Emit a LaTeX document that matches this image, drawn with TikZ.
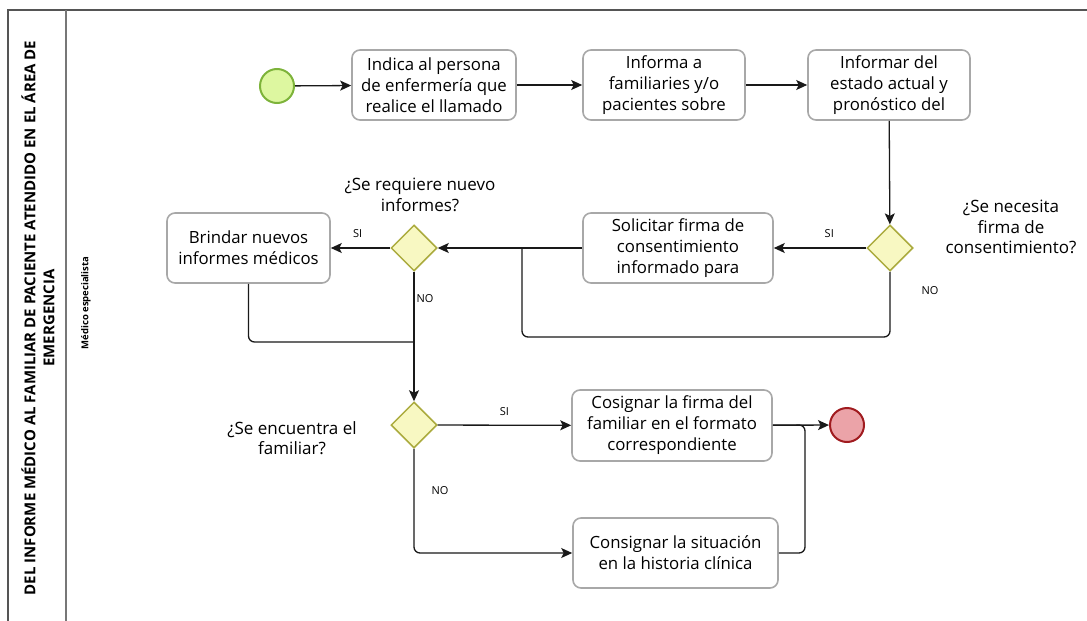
\documentclass[tikz,border=0pt]{standalone}
\usepackage{fontspec}
\setmainfont{Open Sans}
\usetikzlibrary{arrows.meta,shapes.geometric}
\definecolor{taskgray}{HTML}{A8A8A8}
\definecolor{gateline}{HTML}{ABAB3E}
\definecolor{gatefill}{HTML}{F8F8C2}
\definecolor{startfill}{HTML}{DDF7A0}
\definecolor{startline}{HTML}{7DB33A}
\definecolor{endfill}{HTML}{EBA3A8}
\definecolor{endline}{HTML}{A01B1F}
\definecolor{poolline}{HTML}{555555}
\begin{document}
\begin{tikzpicture}[x=1pt,y=-1pt,
  task/.style={draw=taskgray, line width=1.6pt, rounded corners=8pt, fill=white,
    minimum height=70pt, align=center, inner sep=0pt,
    font=\fontsize{16.8}{21}\selectfont},
  gate/.style={diamond, draw=gateline, fill=gatefill, line width=1.5pt,
    minimum width=46pt, minimum height=46pt, inner sep=0pt},
  gatelabel/.style={align=center, font=\fontsize{17}{20.5}\selectfont},
  flowlabel/.style={font=\fontsize{11}{12}\selectfont},
  flow/.style={draw=black!90, line width=1.3pt, rounded corners=6pt},
  arrow/.style={flow, -{Stealth[length=11pt,width=10pt,inset=2.5pt]}},
  event/.style={circle, minimum size=34pt, inner sep=0pt, line width=2pt}
]
\useasboundingbox (0,0) rectangle (1087,621);

% pool and lane frame
\draw[poolline, line width=1.4pt] (8,621) -- (8,10) -- (1087,10);
\draw[poolline!80, line width=1.2pt] (66,10) -- (66,621);
\node[rotate=90, align=center, font=\bfseries\fontsize{15}{19}\selectfont]
  (pooltitle) at (38,318)
  {DEL INFORME MÉDICO AL FAMILIAR DE PACIENTE ATENDIDO EN EL ÁREA DE\\EMERGENCIA};
\node[rotate=90, font=\bfseries\fontsize{9.5}{11}\selectfont]
  (lanetitle) at (86,303) {Médico especialista};

% events
\node[event, draw=startline, fill=startfill] (start) at (277,86) {};
\node[event, draw=endline, fill=endfill] (end) at (847,425) {};

% tasks
\node[task, minimum width=164pt] (t1) at (434,85)
  {Indica al persona\\de enfermería que\\realice el llamado};
\node[task, minimum width=162pt] (t2) at (664,85)
  {Informa a\\familiaries y/o\\pacientes sobre};
\node[task, minimum width=162pt] (t3) at (889,85)
  {Informar del\\estado actual y\\pronóstico del};
\node[task, minimum width=190pt] (t4) at (678,248)
  {Solicitar firma de\\consentimiento\\informado para};
\node[task, minimum width=163pt] (t5) at (248.5,248)
  {Brindar nuevos\\informes médicos};
\node[task, minimum width=200pt, minimum height=71pt] (t6) at (672,425.5)
  {Cosignar la firma del\\familiar en el formato\\correspondiente};
\node[task, minimum width=205pt] (t7) at (675.5,553)
  {Consignar la situación\\en la historia clínica};

% gateways
\node[gate] (g1) at (890,248) {};
\node[gate] (g2) at (414,248) {};
\node[gate] (g3) at (414,425) {};

\node[gatelabel] (g1lbl) at (1011,227)
  {¿Se necesita\\firma de\\consentimiento?};
\node[gatelabel] (g2lbl) at (420,195)
  {¿Se requiere nuevo\\informes?};
\node[gatelabel] (g3lbl) at (292,438)
  {¿Se encuentra el\\familiar?};

% merge points
\coordinate (m1) at (522,248);
\coordinate (m2) at (414,342);
\coordinate (m3) at (805,425);

% sequence flows
\draw[arrow] (start) -- (t1);
\draw[arrow] (t1) -- (t2);
\draw[arrow] (t2) -- (t3);
\draw[arrow] (t3) -- (g1);
\draw[arrow] (g1) -- node[flowlabel, above=6pt, pos=0.4] (si1) {SI} (t4);
\draw[arrow] (t4) -- (g2);
\draw[flow] (g1.south) |- (522,337) -- (m1);
\draw[arrow] (g2) -- node[flowlabel, above=6pt, pos=0.55] (si2) {SI} (t5);
\draw[arrow] (g2) -- (g3);
\node[flowlabel] (no2) at (425,299) {NO};
\node[flowlabel] (no1) at (930,291) {NO};
\draw[flow] (t5.south) |- (m2);
\draw[arrow] (g3) -- node[flowlabel, above=6pt] (si3) {SI} (t6);
\draw[arrow] (g3.south) |- (t7.west);
\node[flowlabel] (no3) at (440,491) {NO};
\draw[arrow] (t6) -- (end);
\draw[flow] (t7.east) -| (m3) -- (m3 -| t6.east);
\end{tikzpicture}
\end{document}
